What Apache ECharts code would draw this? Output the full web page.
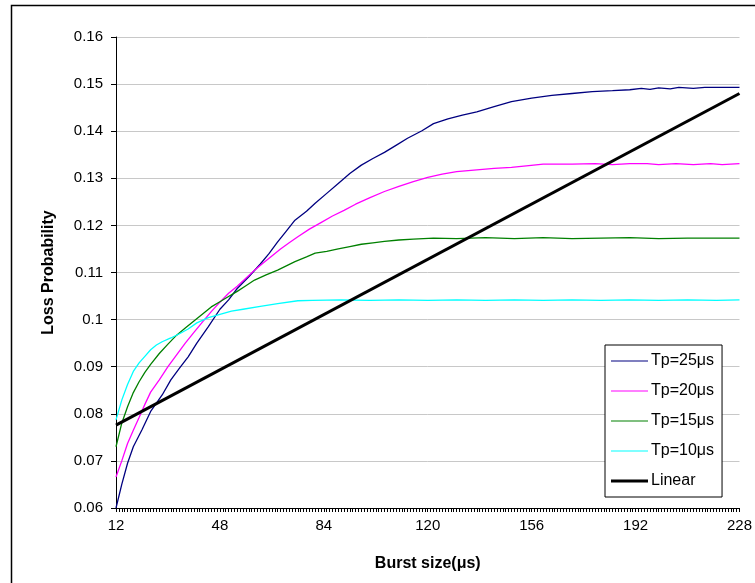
<!DOCTYPE html>
<html>
<head>
<meta charset="utf-8">
<script src="https://cdn.jsdelivr.net/npm/echarts@6/dist/echarts.min.js"></script>
<style>
html,body{margin:0;padding:0;background:#fff;}
#chart{width:755px;height:583px;}
</style>
</head>
<body>
<div id="chart"></div>
<script>
// Category axis: burst sizes 12..228 (μs)
const burstStart = 12;
const burstEnd = 228;
const xTickLabels = ['12','48','84','120','156','192','228'];
const yTicks = [0.06,0.07,0.08,0.09,0.1,0.11,0.12,0.13,0.14,0.15,0.16];

const seriesNames = ['Tp=25μs','Tp=20μs','Tp=15μs','Tp=10μs','Linear'];

// Tp=25μs
const tp25X = [12,14,16,18,21,24,28,31,34,37,40,44,48,51,54,58,62,65,68,71,74,78,81,85,89,93,97,101,105,109,113,118,122,127,132,137,143,149,156,163,170,177,184,190,194,197,200,204,207,212,216,220,224,228];
const tp25Y = [0.0600,0.0650,0.0695,0.0730,0.0766,0.0805,0.0840,0.0872,0.0897,0.0921,0.0950,0.0985,0.1022,0.1042,0.1066,0.1091,0.1118,0.1140,0.1165,0.1188,0.1211,0.1230,0.1247,0.1268,0.1289,0.1310,0.1328,0.1342,0.1355,0.1370,0.1385,0.1401,0.1416,0.1426,0.1434,0.1441,0.1452,0.1463,0.1470,0.1476,0.1480,0.1484,0.1486,0.1488,0.1491,0.1489,0.1492,0.1490,0.1493,0.1491,0.1493,0.1493,0.1493,0.1493];

// Tp=20μs
const tp20X = [12,14,16,18,20,22,24,27,30,33,36,39,42,45,48,51,54,57,60,63,66,69,72,75,79,83,87,91,95,100,105,110,115,120,125,130,137,143,149,155,160,170,178,184,190,196,200,206,212,218,222,228];
const tp20Y = [0.0666,0.0700,0.0737,0.0765,0.0792,0.0820,0.0846,0.0872,0.0900,0.0925,0.0950,0.0973,0.0995,0.1017,0.1037,0.1056,0.1071,0.1088,0.1105,0.1120,0.1135,0.1150,0.1163,0.1176,0.1192,0.1206,0.1220,0.1232,0.1245,0.1259,0.1272,0.1283,0.1293,0.1302,0.1309,0.1314,0.1318,0.1321,0.1323,0.1327,0.1330,0.1330,0.1331,0.1329,0.1331,0.1331,0.1329,0.1331,0.1329,0.1331,0.1329,0.1331];

// Tp=15μs
const tp15X = [12,14,16,18,20,22,24,27,30,33,36,39,42,45,48,51,54,57,60,64,68,71,74,78,81,85,89,93,97,101,105,110,115,122,130,140,150,160,170,180,190,200,210,220,228];
const tp15Y = [0.0730,0.0780,0.0815,0.0845,0.0868,0.0888,0.0905,0.0928,0.0948,0.0967,0.0982,0.0997,0.1012,0.1027,0.1038,0.1049,0.1060,0.1072,0.1084,0.1095,0.1105,0.1114,0.1123,0.1133,0.1141,0.1145,0.1150,0.1155,0.1160,0.1163,0.1166,0.1169,0.1171,0.1173,0.1172,0.1174,0.1172,0.1174,0.1172,0.1173,0.1174,0.1172,0.1173,0.1173,0.1173];

// Tp=10μs
const tp10X = [12,14,16,18,20,22,24,26,28,31,34,37,40,44,48,52,56,62,68,75,80,90,100,110,120,130,140,150,160,170,180,190,200,210,220,228];
const tp10Y = [0.0787,0.0829,0.0862,0.0890,0.0908,0.0922,0.0936,0.0946,0.0953,0.0961,0.0970,0.0980,0.0993,0.1004,0.1011,0.1018,0.1022,0.1028,0.1034,0.1040,0.1041,0.1042,0.1041,0.1042,0.1041,0.1042,0.1041,0.1042,0.1041,0.1042,0.1041,0.1042,0.1041,0.1042,0.1041,0.1042];

// Linear
const linX = [12,228];
const linY = [0.0776,0.1480];

const categories = [];
for (let v = burstStart; v <= burstEnd; v++) categories.push(String(v));

function pairs(xs, ys){ return xs.map((x,i)=>[String(x), ys[i]]); }

const colors = ['#000080','#FF00FF','#008000','#00FFFF','#000000'];
const widths = [1.3,1.3,1.3,1.3,3];
const font = '"Liberation Sans", Arial, sans-serif';

const chart = echarts.init(document.getElementById('chart'), null, {renderer:'canvas'});
const mk = (i, xs, ys) => ({
  name: seriesNames[i], type:'line', data: pairs(xs, ys), symbol:'none',
  lineStyle:{color:colors[i], width:widths[i]}, itemStyle:{color:colors[i]}, animation:false, z: 2 + i
});
// legend icons: plain horizontal strokes (tiny corner anchors keep the 37x14 box)
const anchors = 'M0,0L0.01,0L0,0.01Z M37,14L36.99,14L37,13.99Z ';
const legendData = seriesNames.map((n,i)=>({
  name:n,
  icon: 'path://' + anchors + (widths[i] > 2 ? 'M0,5.5H37V8.5H0Z' : 'M0,6.4H37V7.6H0Z')
}));
chart.setOption({
  animation:false,
  backgroundColor:'#ffffff',
  textStyle:{fontFamily:font},
  graphic:[{type:'rect', shape:{x:11.5,y:5.5,width:800,height:700}, style:{fill:'none', stroke:'#000', lineWidth:1.5}, silent:true, z:-1}],
  grid:{left:116, right:10, top:37, bottom:75, containLabel:false},
  legend:{
    orient:'vertical', left:605, top:345,
    data:legendData,
    backgroundColor:'#fff', borderColor:'#000', borderWidth:1,
    padding:[8,8,8,6], itemGap:14, itemWidth:37, itemHeight:14,
    textStyle:{fontFamily:font, fontSize:16, color:'#000', padding:[0,0,0,-2]}
  },
  xAxis:{
    type:'category', data:categories, boundaryGap:false,
    axisLine:{lineStyle:{color:'#000', width:1}},
    axisTick:{show:true, interval:0, length:4, lineStyle:{color:'#000'}},
    axisLabel:{interval:35, color:'#000', fontSize:15, fontFamily:font, margin:10,
      formatter:(v)=> xTickLabels.includes(v) ? v : ''},
    splitLine:{show:false},
    name:'Burst size(μs)', nameLocation:'middle', nameGap:48,
    nameTextStyle:{fontWeight:'bold', fontSize:16, color:'#000', fontFamily:font}
  },
  yAxis:{
    type:'value', min:yTicks[0], max:yTicks[yTicks.length-1], interval:0.01,
    axisLine:{show:true, lineStyle:{color:'#000', width:1}},
    axisTick:{show:true, length:5, lineStyle:{color:'#000'}},
    axisLabel:{color:'#000', fontSize:15, fontFamily:font, margin:13,
      formatter:(v)=> String(parseFloat(v.toFixed(2)))},
    splitLine:{show:true, lineStyle:{color:'#c8c8c8', width:1}},
    name:'Loss Probability', nameLocation:'middle', nameGap:59, nameRotate:90,
    nameTextStyle:{fontWeight:'bold', fontSize:16, color:'#000', fontFamily:font}
  },
  series:[
    mk(0, tp25X, tp25Y),
    mk(1, tp20X, tp20Y),
    mk(2, tp15X, tp15Y),
    mk(3, tp10X, tp10Y),
    mk(4, linX, linY)
  ]
});
</script>
</body>
</html>
